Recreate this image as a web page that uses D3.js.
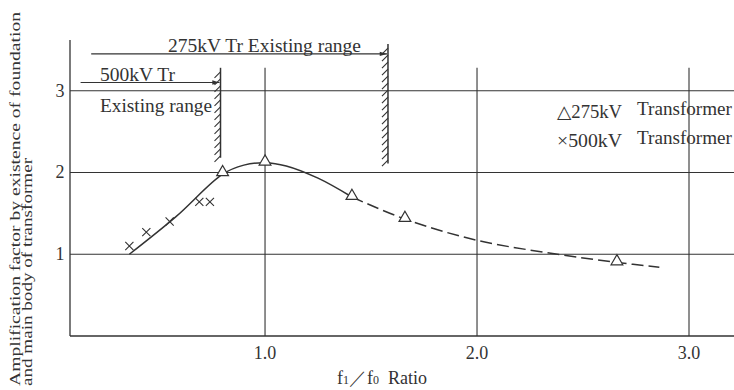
<!DOCTYPE html>
<html lang="en">
<head>
    <meta charset="UTF-8">
    <title>Amplification factor</title>
    <script src="https://cdn.jsdelivr.net/npm/d3@7/dist/d3.min.js"></script>
    <style>
        body { margin: 0; background: #fff; }
        text { font-family: "Liberation Serif", "DejaVu Serif", serif; fill: #333; }
    </style>
</head>
<body>
    <script>
        //width and height
        var w = 734;
        var h = 390;

        //data
        var xTicks = [1.0, 2.0, 3.0];
        var yTicks = [1, 2, 3];
        var solidCurve = [[0.36, 1.0], [0.58, 1.46], [0.8, 1.98], [0.9, 2.09], [1.0, 2.12], [1.1, 2.08], [1.25, 1.93], [1.41, 1.70]];
        var dashedCurve = [[1.41, 1.70], [1.66, 1.43], [2.0, 1.17], [2.38, 1.0], [2.66, 0.90], [2.86, 0.84]];
        var tr275 = [[0.8, 1.99], [1.0, 2.12], [1.41, 1.70], [1.66, 1.43], [2.66, 0.90]];
        var tr500 = [[0.36, 1.10], [0.44, 1.27], [0.55, 1.40], [0.69, 1.64], [0.74, 1.64]];
        var ranges = [
            { label: '275kV Tr Existing range', start: 0.18, end: 1.58, y: 3.45, top: 3.57, bottom: 2.11 },
            { label: '500kV Tr', start: 0.13, end: 0.79, y: 3.1, top: 3.28, bottom: 2.18 }
        ];

        //scales
        var xScale = d3.scaleLinear().domain([0.08, 3.25]).range([70, 742]);
        var yScale = d3.scaleLinear().domain([0, 3.62]).range([336, 40]);

        var svg = d3.select('body')
                    .append('svg')
                    .attr('width', w)
                    .attr('height', h);

        var ink = '#333';

        //axes frame
        svg.append('line')
            .attr('x1', xScale(0.08)).attr('x2', xScale(0.08))
            .attr('y1', yScale(3.62)).attr('y2', yScale(0))
            .attr('stroke', ink).attr('stroke-width', 1.3);
        svg.append('line')
            .attr('x1', xScale(0.08)).attr('x2', w)
            .attr('y1', yScale(0)).attr('y2', yScale(0))
            .attr('stroke', ink).attr('stroke-width', 1.3);

        //horizontal grid
        svg.selectAll('.hgrid')
            .data(yTicks)
            .enter()
            .append('line')
            .attr('x1', xScale(0.08)).attr('x2', w)
            .attr('y1', function(d) { return yScale(d); })
            .attr('y2', function(d) { return yScale(d); })
            .attr('stroke', ink).attr('stroke-width', 1.1);

        //vertical grid
        svg.selectAll('.vgrid')
            .data(xTicks)
            .enter()
            .append('line')
            .attr('x1', function(d) { return xScale(d); })
            .attr('x2', function(d) { return xScale(d); })
            .attr('y1', yScale(3.28)).attr('y2', yScale(0))
            .attr('stroke', ink).attr('stroke-width', 1.1);

        //tick labels
        svg.selectAll('.xlab')
            .data(xTicks)
            .enter()
            .append('text')
            .attr('x', function(d) { return xScale(d); })
            .attr('y', 359)
            .attr('text-anchor', 'middle')
            .attr('font-size', '18px')
            .text(function(d) { return d.toFixed(1); });

        svg.selectAll('.ylab')
            .data(yTicks)
            .enter()
            .append('text')
            .attr('x', 60)
            .attr('y', function(d) { return yScale(d) + 6; })
            .attr('text-anchor', 'middle')
            .attr('font-size', '18px')
            .text(function(d) { return d; });

        //axis titles
        var xt = svg.append('text')
            .attr('x', 337).attr('y', 384)
            .attr('font-size', '18px');
        xt.append('tspan').text('f');
        xt.append('tspan').attr('font-size', '12px').text('1');
        xt.append('tspan').text('／f');
        xt.append('tspan').attr('font-size', '12px').text('0');
        xt.append('tspan').attr('dx', 9).text('Ratio');

        svg.append('text')
            .attr('transform', 'translate(20,386) rotate(-90)')
            .attr('font-size', '15px')
            .attr('textLength', 374)
            .attr('lengthAdjust', 'spacingAndGlyphs')
            .text('Amplification factor by existence of foundation');
        svg.append('text')
            .attr('transform', 'translate(32,386) rotate(-90)')
            .attr('font-size', '15px')
            .attr('textLength', 228)
            .attr('lengthAdjust', 'spacingAndGlyphs')
            .text('and main body of transformer');

        //curve
        var line = d3.line()
            .x(function(d) { return xScale(d[0]); })
            .y(function(d) { return yScale(d[1]); })
            .curve(d3.curveCatmullRom);

        svg.append('path')
            .attr('d', line(solidCurve))
            .attr('fill', 'none').attr('stroke', ink).attr('stroke-width', 1.5);
        svg.append('path')
            .attr('d', line(dashedCurve))
            .attr('fill', 'none').attr('stroke', ink).attr('stroke-width', 1.5)
            .attr('stroke-dasharray', '12,5');

        //markers
        svg.selectAll('.tri')
            .data(tr275)
            .enter()
            .append('path')
            .attr('d', d3.symbol().type(d3.symbolTriangle).size(60))
            .attr('transform', function(d) { return 'translate(' + xScale(d[0]) + ',' + (yScale(d[1]) - 1) + ')'; })
            .attr('fill', '#fff').attr('stroke', ink).attr('stroke-width', 1.2);

        svg.selectAll('.cross')
            .data(tr500)
            .enter()
            .append('path')
            .attr('d', d3.symbol().type(d3.symbolTimes).size(45))
            .attr('transform', function(d) { return 'translate(' + xScale(d[0]) + ',' + yScale(d[1]) + ')'; })
            .attr('fill', 'none').attr('stroke', ink).attr('stroke-width', 1.1);

        //arrow head
        svg.append('defs').append('marker')
            .attr('id', 'arrow')
            .attr('viewBox', '0 0 10 10')
            .attr('refX', 10).attr('refY', 5)
            .attr('markerWidth', 8).attr('markerHeight', 6)
            .attr('orient', 'auto')
            .append('path')
            .attr('d', 'M0,2 L10,5 L0,8 Z')
            .attr('fill', ink);

        //existing ranges
        ranges.forEach(function(r) {
            var xe = xScale(r.end);
            svg.append('line')
                .attr('x1', xScale(r.start)).attr('x2', xe - 1)
                .attr('y1', yScale(r.y)).attr('y2', yScale(r.y))
                .attr('stroke', ink).attr('stroke-width', 1.2)
                .attr('marker-end', 'url(#arrow)');
            svg.append('line')
                .attr('x1', xe).attr('x2', xe)
                .attr('y1', yScale(r.top)).attr('y2', yScale(r.bottom))
                .attr('stroke', ink).attr('stroke-width', 1.5);
            var hatch = d3.range(yScale(r.top) + 4, yScale(r.bottom), 7);
            svg.selectAll(null)
                .data(hatch)
                .enter()
                .append('line')
                .attr('x1', xe - 6).attr('x2', xe)
                .attr('y1', function(d) { return d + 6; })
                .attr('y2', function(d) { return d; })
                .attr('stroke', ink).attr('stroke-width', 1.1);
        });

        //range labels and legend
        function label(x, y, txt, len) {
            svg.append('text')
                .attr('x', x).attr('y', y)
                .attr('font-size', '18px')
                .attr('textLength', len)
                .attr('lengthAdjust', 'spacingAndGlyphs')
                .text(txt);
        }
        label(168, yScale(3.45) - 2, ranges[0].label, 193);
        label(100, yScale(3.1) - 2, ranges[1].label, 75);
        label(100, 112, 'Existing range', 112);
        label(557, 118, '△275kV', 65);
        label(637, 115, 'Transformer', 95);
        label(557, 147, '×500kV', 65);
        label(637, 144, 'Transformer', 95);
    </script>
</body>
</html>
